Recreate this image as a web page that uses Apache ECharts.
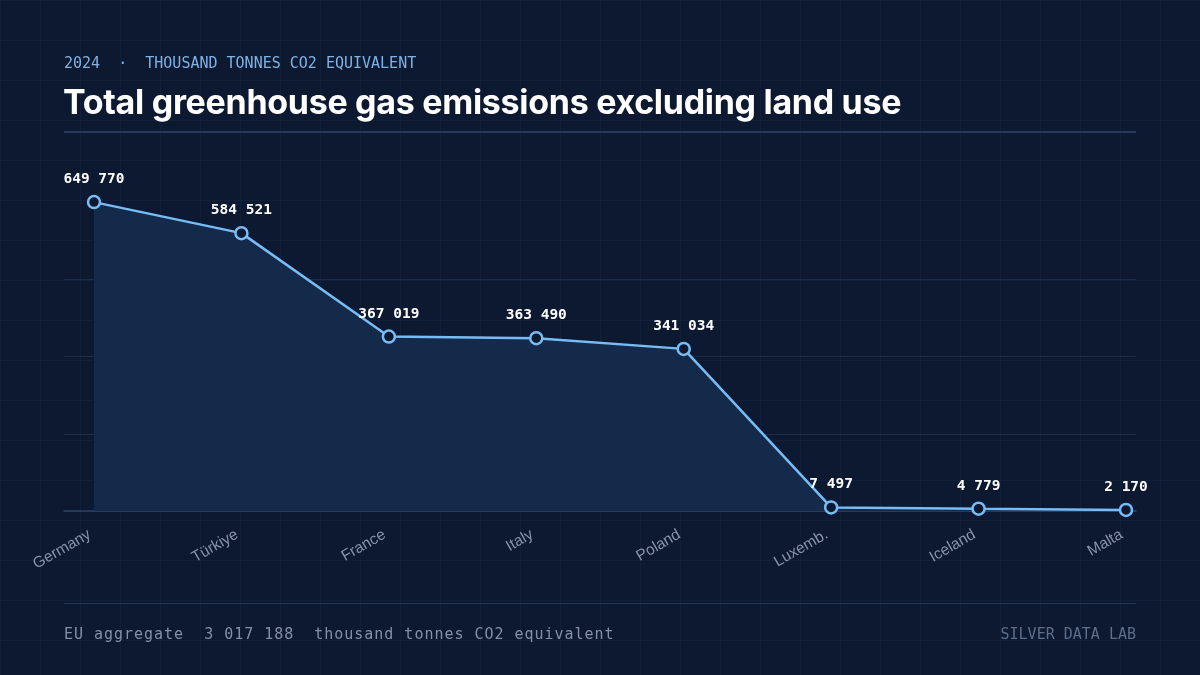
<!DOCTYPE html>
<html>
<head>
<meta charset="utf-8">
<script src="https://cdn.jsdelivr.net/npm/echarts@6/dist/echarts.min.js"></script>
<style>
html,body{margin:0;padding:0;width:1200px;height:675px;overflow:hidden;}
body{
  position:relative;
  background-color:#0c1930;
  background-image:
    linear-gradient(to right, rgba(120,150,200,0.05) 1px, transparent 1px),
    linear-gradient(to bottom, rgba(120,150,200,0.05) 1px, transparent 1px);
  background-size:40px 40px;
}
#chart{position:absolute;left:0;top:0;width:1200px;height:675px;}
.t{position:absolute;white-space:pre;margin:0;}
#sub{left:64px;top:54px;font:15px/18px 'DejaVu Sans Mono',monospace;color:#7fb2e5;}
#title{left:63px;top:82px;font:bold 34px/40px Inter,'Noto Sans',sans-serif;color:#ffffff;letter-spacing:-0.3px;}
#foot{left:64px;top:625px;font:15px/18px 'DejaVu Sans Mono',monospace;color:#8390a8;letter-spacing:0.98px;}
#brand{right:64px;top:625px;font:15px/18px 'DejaVu Sans Mono',monospace;color:#5e6e8a;}
#hr1{position:absolute;left:64px;top:131px;width:1072px;height:2px;background:#263a5c;}
#hr2{position:absolute;left:64px;top:603px;width:1072px;height:1px;background:#24365a;}
</style>
</head>
<body>
<div id="hr1"></div>
<div id="hr2"></div>
<div id="chart"></div>
<div class="t" id="sub"></div>
<div class="t" id="title"></div>
<div class="t" id="foot"></div>
<div class="t" id="brand"></div>
<script>
const categories = ['Germany','Türkiye','France','Italy','Poland','Luxemb.','Iceland','Malta'];
const values = [649770, 584521, 367019, 363490, 341034, 7497, 4779, 2170];
const yMax = 650000;
const yInterval = 162500;
const subtitleText = '2024  ·  THOUSAND TONNES CO2 EQUIVALENT';
const titleText = 'Total greenhouse gas emissions excluding land use';
const footerText = 'EU aggregate  3 017 188  thousand tonnes CO2 equivalent';
const brandText = 'SILVER DATA LAB';

document.getElementById('sub').textContent = subtitleText;
document.getElementById('title').textContent = titleText;
document.getElementById('foot').textContent = footerText;
document.getElementById('brand').textContent = brandText;

function fmt(v){
  return String(v).replace(/\B(?=(\d{3})+(?!\d))/g, ' ');
}

const chart = echarts.init(document.getElementById('chart'), null, {renderer:'canvas'});
const mono = "'DejaVu Sans Mono', 'Liberation Mono', monospace";
const split = '#1c2d4a';
const bg = '#0c1930';
chart.setOption({
  backgroundColor: 'transparent',
  animation: false,
  grid: [
    {left: 94, right: 74, top: 202, bottom: 164},
    {left: 64, right: 64, top: 202, bottom: 164}
  ],
  xAxis: [
    {type:'category', data: categories, boundaryGap: false, gridIndex: 0,
     axisLine:{show:false}, axisTick:{show:false},
     axisLabel:{rotate: 30, margin: 20, color:'#8593aa', fontSize: 15.5, padding:[0,5,0,0],
       fontFamily: "'Liberation Sans', Arial, sans-serif", interval: 0}},
    {type:'category', data: categories, boundaryGap: false, gridIndex: 1,
     axisLine:{show:true, lineStyle:{color:'#2b4066', width:1.5}},
     axisTick:{show:false}, axisLabel:{show:false}}
  ],
  yAxis: [
    {type:'value', min: 0, max: yMax, interval: yInterval, gridIndex: 0,
     axisLine:{show:false}, axisTick:{show:false}, axisLabel:{show:false}, splitLine:{show:false}},
    {type:'value', min: 0, max: yMax, interval: yInterval, gridIndex: 1,
     axisLine:{show:false}, axisTick:{show:false}, axisLabel:{show:false},
     splitLine:{show:true, lineStyle:{color:[split, split, split, split, 'rgba(0,0,0,0)'], width:1}}}
  ],
  series: [{
    type:'line', data: values, xAxisIndex:0, yAxisIndex:0,
    symbol:'circle', symbolSize: 12, showAllSymbol: true,
    lineStyle:{color:'#78bcf5', width:2.5},
    itemStyle:{color: bg, borderColor:'#78bcf5', borderWidth:2.5},
    areaStyle:{color:'#142a4a', opacity:1},
    label:{show:true, position:'top', distance: 8, formatter: p => fmt(p.value),
      color:'#ffffff', fontFamily: mono, fontWeight:'bold', fontSize: 14.5},
    z: 3
  }]
});
</script>
</body>
</html>
